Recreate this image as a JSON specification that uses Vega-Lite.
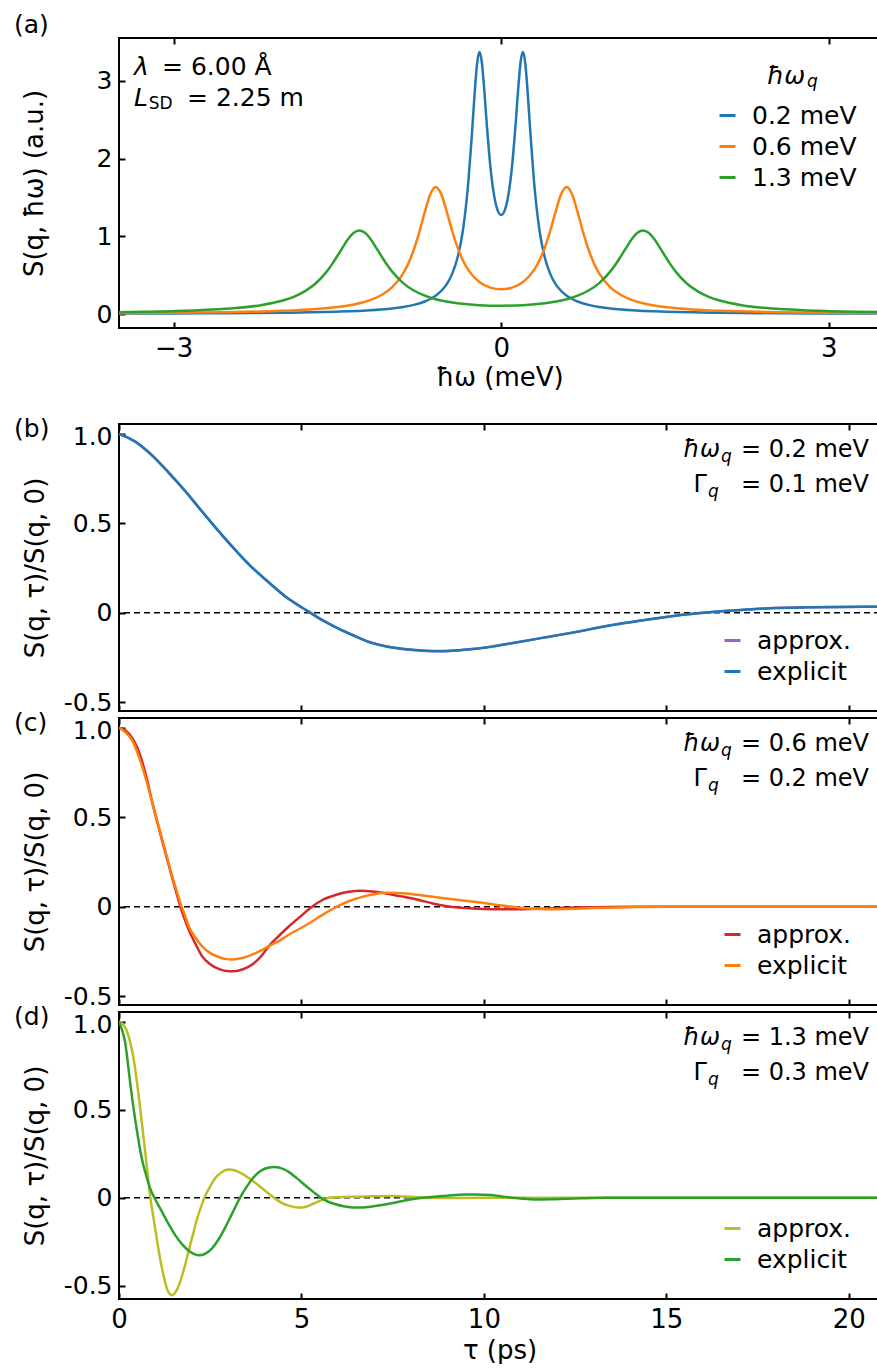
{
  "$schema": "https://vega.github.io/schema/vega-lite/v6.json",
  "background": "white",
  "padding": {"left": 12, "top": 12, "right": 0, "bottom": 0},
  "config": {
    "font": "DejaVu Sans",
    "view": {"stroke": "black", "strokeWidth": 2},
    "axis": {
      "domain": false, "grid": false, "labelFlush": false,
      "tickColor": "black", "tickWidth": 2, "tickSize": -6,
      "labelPadding": 13, "labelFontSize": 26, "labelColor": "black", "labelFont": "DejaVu Sans",
      "titleFontSize": 26, "titleFontWeight": "normal", "titleColor": "black", "titleFont": "DejaVu Sans"
    },
    "axisLeft": {"labelFontSize": 25},
    "legend": {"labelFont": "DejaVu Sans", "labelColor": "black", "labelFontSize": 25, "padding": 0},
    "text": {"font": "DejaVu Sans", "color": "black", "baseline": "alphabetic"}
  },
  "datasets": {
    "a": [
      {"E": -3.5, "S": 0.005, "m": "0.2 meV"}, {"E": -3.0, "S": 0.007, "m": "0.2 meV"}, {"E": -2.5, "S": 0.010, "m": "0.2 meV"}, {"E": -2.0, "S": 0.016, "m": "0.2 meV"}, {"E": -1.75, "S": 0.022, "m": "0.2 meV"}, {"E": -1.5, "S": 0.030, "m": "0.2 meV"}, {"E": -1.4, "S": 0.034, "m": "0.2 meV"}, {"E": -1.3, "S": 0.040, "m": "0.2 meV"}, {"E": -1.2, "S": 0.048, "m": "0.2 meV"}, {"E": -1.1, "S": 0.058, "m": "0.2 meV"}, {"E": -1.0, "S": 0.071, "m": "0.2 meV"}, {"E": -0.9, "S": 0.090, "m": "0.2 meV"}, {"E": -0.8, "S": 0.117, "m": "0.2 meV"}, {"E": -0.7, "S": 0.161, "m": "0.2 meV"}, {"E": -0.65, "S": 0.193, "m": "0.2 meV"}, {"E": -0.6, "S": 0.236, "m": "0.2 meV"}, {"E": -0.55, "S": 0.296, "m": "0.2 meV"}, {"E": -0.5, "S": 0.382, "m": "0.2 meV"}, {"E": -0.45, "S": 0.513, "m": "0.2 meV"}, {"E": -0.4, "S": 0.723, "m": "0.2 meV"}, {"E": -0.35, "S": 1.081, "m": "0.2 meV"}, {"E": -0.3, "S": 1.714, "m": "0.2 meV"}, {"E": -0.27, "S": 2.274, "m": "0.2 meV"}, {"E": -0.24, "S": 2.900, "m": "0.2 meV"}, {"E": -0.22, "S": 3.231, "m": "0.2 meV"}, {"E": -0.2, "S": 3.370, "m": "0.2 meV"}, {"E": -0.18, "S": 3.267, "m": "0.2 meV"}, {"E": -0.16, "S": 2.972, "m": "0.2 meV"}, {"E": -0.13, "S": 2.404, "m": "0.2 meV"}, {"E": -0.1, "S": 1.910, "m": "0.2 meV"}, {"E": -0.07, "S": 1.567, "m": "0.2 meV"}, {"E": -0.04, "S": 1.365, "m": "0.2 meV"}, {"E": 0, "S": 1.273, "m": "0.2 meV"}, {"E": 0.04, "S": 1.365, "m": "0.2 meV"}, {"E": 0.07, "S": 1.567, "m": "0.2 meV"}, {"E": 0.1, "S": 1.910, "m": "0.2 meV"}, {"E": 0.13, "S": 2.404, "m": "0.2 meV"}, {"E": 0.16, "S": 2.972, "m": "0.2 meV"}, {"E": 0.18, "S": 3.267, "m": "0.2 meV"}, {"E": 0.2, "S": 3.370, "m": "0.2 meV"}, {"E": 0.22, "S": 3.231, "m": "0.2 meV"}, {"E": 0.24, "S": 2.900, "m": "0.2 meV"}, {"E": 0.27, "S": 2.274, "m": "0.2 meV"}, {"E": 0.3, "S": 1.714, "m": "0.2 meV"}, {"E": 0.35, "S": 1.081, "m": "0.2 meV"}, {"E": 0.4, "S": 0.723, "m": "0.2 meV"}, {"E": 0.45, "S": 0.513, "m": "0.2 meV"}, {"E": 0.5, "S": 0.382, "m": "0.2 meV"}, {"E": 0.55, "S": 0.296, "m": "0.2 meV"}, {"E": 0.6, "S": 0.236, "m": "0.2 meV"}, {"E": 0.65, "S": 0.193, "m": "0.2 meV"}, {"E": 0.7, "S": 0.161, "m": "0.2 meV"}, {"E": 0.8, "S": 0.117, "m": "0.2 meV"}, {"E": 0.9, "S": 0.090, "m": "0.2 meV"}, {"E": 1.0, "S": 0.071, "m": "0.2 meV"}, {"E": 1.1, "S": 0.058, "m": "0.2 meV"}, {"E": 1.2, "S": 0.048, "m": "0.2 meV"}, {"E": 1.3, "S": 0.040, "m": "0.2 meV"}, {"E": 1.4, "S": 0.034, "m": "0.2 meV"}, {"E": 1.5, "S": 0.030, "m": "0.2 meV"}, {"E": 1.75, "S": 0.022, "m": "0.2 meV"}, {"E": 2.0, "S": 0.016, "m": "0.2 meV"}, {"E": 2.5, "S": 0.010, "m": "0.2 meV"}, {"E": 3.0, "S": 0.007, "m": "0.2 meV"}, {"E": 3.5, "S": 0.005, "m": "0.2 meV"},

      {"E": -3.5, "S": 0.011, "m": "0.6 meV"}, {"E": -3.0, "S": 0.016, "m": "0.6 meV"}, {"E": -2.5, "S": 0.024, "m": "0.6 meV"}, {"E": -2.0, "S": 0.041, "m": "0.6 meV"}, {"E": -1.75, "S": 0.058, "m": "0.6 meV"}, {"E": -1.5, "S": 0.089, "m": "0.6 meV"}, {"E": -1.4, "S": 0.109, "m": "0.6 meV"}, {"E": -1.3, "S": 0.138, "m": "0.6 meV"}, {"E": -1.2, "S": 0.179, "m": "0.6 meV"}, {"E": -1.1, "S": 0.241, "m": "0.6 meV"}, {"E": -1.0, "S": 0.343, "m": "0.6 meV"}, {"E": -0.9, "S": 0.517, "m": "0.6 meV"}, {"E": -0.85, "S": 0.651, "m": "0.6 meV"}, {"E": -0.8, "S": 0.828, "m": "0.6 meV"}, {"E": -0.75, "S": 1.053, "m": "0.6 meV"}, {"E": -0.7, "S": 1.310, "m": "0.6 meV"}, {"E": -0.65, "S": 1.538, "m": "0.6 meV"}, {"E": -0.6, "S": 1.635, "m": "0.6 meV"}, {"E": -0.55, "S": 1.545, "m": "0.6 meV"}, {"E": -0.5, "S": 1.324, "m": "0.6 meV"}, {"E": -0.45, "S": 1.074, "m": "0.6 meV"}, {"E": -0.4, "S": 0.857, "m": "0.6 meV"}, {"E": -0.35, "S": 0.689, "m": "0.6 meV"}, {"E": -0.3, "S": 0.564, "m": "0.6 meV"}, {"E": -0.2, "S": 0.412, "m": "0.6 meV"}, {"E": -0.1, "S": 0.340, "m": "0.6 meV"}, {"E": 0, "S": 0.318, "m": "0.6 meV"}, {"E": 0.1, "S": 0.340, "m": "0.6 meV"}, {"E": 0.2, "S": 0.412, "m": "0.6 meV"}, {"E": 0.3, "S": 0.564, "m": "0.6 meV"}, {"E": 0.35, "S": 0.689, "m": "0.6 meV"}, {"E": 0.4, "S": 0.857, "m": "0.6 meV"}, {"E": 0.45, "S": 1.074, "m": "0.6 meV"}, {"E": 0.5, "S": 1.324, "m": "0.6 meV"}, {"E": 0.55, "S": 1.545, "m": "0.6 meV"}, {"E": 0.6, "S": 1.635, "m": "0.6 meV"}, {"E": 0.65, "S": 1.538, "m": "0.6 meV"}, {"E": 0.7, "S": 1.310, "m": "0.6 meV"}, {"E": 0.75, "S": 1.053, "m": "0.6 meV"}, {"E": 0.8, "S": 0.828, "m": "0.6 meV"}, {"E": 0.85, "S": 0.651, "m": "0.6 meV"}, {"E": 0.9, "S": 0.517, "m": "0.6 meV"}, {"E": 1.0, "S": 0.343, "m": "0.6 meV"}, {"E": 1.1, "S": 0.241, "m": "0.6 meV"}, {"E": 1.2, "S": 0.179, "m": "0.6 meV"}, {"E": 1.3, "S": 0.138, "m": "0.6 meV"}, {"E": 1.4, "S": 0.109, "m": "0.6 meV"}, {"E": 1.5, "S": 0.089, "m": "0.6 meV"}, {"E": 1.75, "S": 0.058, "m": "0.6 meV"}, {"E": 2.0, "S": 0.041, "m": "0.6 meV"}, {"E": 2.5, "S": 0.024, "m": "0.6 meV"}, {"E": 3.0, "S": 0.016, "m": "0.6 meV"}, {"E": 3.5, "S": 0.011, "m": "0.6 meV"},

      {"E": -3.5, "S": 0.024, "m": "1.3 meV"}, {"E": -3.25, "S": 0.029, "m": "1.3 meV"}, {"E": -3.0, "S": 0.037, "m": "1.3 meV"}, {"E": -2.8, "S": 0.046, "m": "1.3 meV"}, {"E": -2.6, "S": 0.060, "m": "1.3 meV"}, {"E": -2.4, "S": 0.080, "m": "1.3 meV"}, {"E": -2.2, "S": 0.114, "m": "1.3 meV"}, {"E": -2.0, "S": 0.173, "m": "1.3 meV"}, {"E": -1.9, "S": 0.221, "m": "1.3 meV"}, {"E": -1.8, "S": 0.291, "m": "1.3 meV"}, {"E": -1.7, "S": 0.392, "m": "1.3 meV"}, {"E": -1.6, "S": 0.542, "m": "1.3 meV"}, {"E": -1.55, "S": 0.638, "m": "1.3 meV"}, {"E": -1.5, "S": 0.747, "m": "1.3 meV"}, {"E": -1.45, "S": 0.861, "m": "1.3 meV"}, {"E": -1.4, "S": 0.968, "m": "1.3 meV"}, {"E": -1.35, "S": 1.046, "m": "1.3 meV"}, {"E": -1.3, "S": 1.075, "m": "1.3 meV"}, {"E": -1.25, "S": 1.047, "m": "1.3 meV"}, {"E": -1.2, "S": 0.970, "m": "1.3 meV"}, {"E": -1.15, "S": 0.864, "m": "1.3 meV"}, {"E": -1.1, "S": 0.751, "m": "1.3 meV"}, {"E": -1.05, "S": 0.643, "m": "1.3 meV"}, {"E": -1.0, "S": 0.548, "m": "1.3 meV"}, {"E": -0.9, "S": 0.401, "m": "1.3 meV"}, {"E": -0.8, "S": 0.302, "m": "1.3 meV"}, {"E": -0.7, "S": 0.236, "m": "1.3 meV"}, {"E": -0.6, "S": 0.190, "m": "1.3 meV"}, {"E": -0.4, "S": 0.138, "m": "1.3 meV"}, {"E": -0.2, "S": 0.114, "m": "1.3 meV"}, {"E": 0, "S": 0.107, "m": "1.3 meV"}, {"E": 0.2, "S": 0.114, "m": "1.3 meV"}, {"E": 0.4, "S": 0.138, "m": "1.3 meV"}, {"E": 0.6, "S": 0.190, "m": "1.3 meV"}, {"E": 0.7, "S": 0.236, "m": "1.3 meV"}, {"E": 0.8, "S": 0.302, "m": "1.3 meV"}, {"E": 0.9, "S": 0.401, "m": "1.3 meV"}, {"E": 1.0, "S": 0.548, "m": "1.3 meV"}, {"E": 1.05, "S": 0.643, "m": "1.3 meV"}, {"E": 1.1, "S": 0.751, "m": "1.3 meV"}, {"E": 1.15, "S": 0.864, "m": "1.3 meV"}, {"E": 1.2, "S": 0.970, "m": "1.3 meV"}, {"E": 1.25, "S": 1.047, "m": "1.3 meV"}, {"E": 1.3, "S": 1.075, "m": "1.3 meV"}, {"E": 1.35, "S": 1.046, "m": "1.3 meV"}, {"E": 1.4, "S": 0.968, "m": "1.3 meV"}, {"E": 1.45, "S": 0.861, "m": "1.3 meV"}, {"E": 1.5, "S": 0.747, "m": "1.3 meV"}, {"E": 1.55, "S": 0.638, "m": "1.3 meV"}, {"E": 1.6, "S": 0.542, "m": "1.3 meV"}, {"E": 1.7, "S": 0.392, "m": "1.3 meV"}, {"E": 1.8, "S": 0.291, "m": "1.3 meV"}, {"E": 1.9, "S": 0.221, "m": "1.3 meV"}, {"E": 2.0, "S": 0.173, "m": "1.3 meV"}, {"E": 2.2, "S": 0.114, "m": "1.3 meV"}, {"E": 2.4, "S": 0.080, "m": "1.3 meV"}, {"E": 2.6, "S": 0.060, "m": "1.3 meV"}, {"E": 2.8, "S": 0.046, "m": "1.3 meV"}, {"E": 3.0, "S": 0.037, "m": "1.3 meV"}, {"E": 3.25, "S": 0.029, "m": "1.3 meV"}, {"E": 3.5, "S": 0.024, "m": "1.3 meV"}
    ],
    "b": [
      {"t": 0, "v": 1.0, "s": "approx."}, {"t": 0.45, "v": 0.957, "s": "approx."}, {"t": 0.9, "v": 0.882, "s": "approx."}, {"t": 1.35, "v": 0.787, "s": "approx."}, {"t": 1.82, "v": 0.679, "s": "approx."}, {"t": 2.27, "v": 0.567, "s": "approx."}, {"t": 2.73, "v": 0.456, "s": "approx."}, {"t": 3.19, "v": 0.35, "s": "approx."}, {"t": 3.65, "v": 0.252, "s": "approx."}, {"t": 4.1, "v": 0.17, "s": "approx."}, {"t": 4.56, "v": 0.09, "s": "approx."}, {"t": 5.0, "v": 0.03, "s": "approx."}, {"t": 5.24, "v": 0.0, "s": "approx."}, {"t": 5.6, "v": -0.045, "s": "approx."}, {"t": 5.93, "v": -0.081, "s": "approx."}, {"t": 6.4, "v": -0.125, "s": "approx."}, {"t": 6.85, "v": -0.163, "s": "approx."}, {"t": 7.3, "v": -0.188, "s": "approx."}, {"t": 7.76, "v": -0.203, "s": "approx."}, {"t": 8.3, "v": -0.213, "s": "approx."}, {"t": 8.86, "v": -0.216, "s": "approx."}, {"t": 9.3, "v": -0.211, "s": "approx."}, {"t": 9.77, "v": -0.202, "s": "approx."}, {"t": 10.2, "v": -0.19, "s": "approx."}, {"t": 10.68, "v": -0.174, "s": "approx."}, {"t": 11.6, "v": -0.141, "s": "approx."}, {"t": 12.51, "v": -0.108, "s": "approx."}, {"t": 13.43, "v": -0.072, "s": "approx."}, {"t": 14.34, "v": -0.043, "s": "approx."}, {"t": 15.25, "v": -0.017, "s": "approx."}, {"t": 16.17, "v": 0.002, "s": "approx."}, {"t": 17.08, "v": 0.016, "s": "approx."}, {"t": 18.0, "v": 0.026, "s": "approx."}, {"t": 18.9, "v": 0.030, "s": "approx."}, {"t": 19.8, "v": 0.032, "s": "approx."}, {"t": 20.9, "v": 0.033, "s": "approx."},
      {"t": 0, "v": 1.0, "s": "explicit"}, {"t": 0.45, "v": 0.955, "s": "explicit"}, {"t": 0.9, "v": 0.88, "s": "explicit"}, {"t": 1.35, "v": 0.785, "s": "explicit"}, {"t": 1.82, "v": 0.678, "s": "explicit"}, {"t": 2.27, "v": 0.567, "s": "explicit"}, {"t": 2.73, "v": 0.456, "s": "explicit"}, {"t": 3.19, "v": 0.35, "s": "explicit"}, {"t": 3.65, "v": 0.252, "s": "explicit"}, {"t": 4.1, "v": 0.17, "s": "explicit"}, {"t": 4.56, "v": 0.09, "s": "explicit"}, {"t": 5.0, "v": 0.03, "s": "explicit"}, {"t": 5.24, "v": 0.0, "s": "explicit"}, {"t": 5.6, "v": -0.045, "s": "explicit"}, {"t": 5.93, "v": -0.081, "s": "explicit"}, {"t": 6.4, "v": -0.125, "s": "explicit"}, {"t": 6.85, "v": -0.165, "s": "explicit"}, {"t": 7.3, "v": -0.188, "s": "explicit"}, {"t": 7.76, "v": -0.202, "s": "explicit"}, {"t": 8.3, "v": -0.212, "s": "explicit"}, {"t": 8.86, "v": -0.215, "s": "explicit"}, {"t": 9.3, "v": -0.21, "s": "explicit"}, {"t": 9.77, "v": -0.202, "s": "explicit"}, {"t": 10.2, "v": -0.19, "s": "explicit"}, {"t": 10.68, "v": -0.174, "s": "explicit"}, {"t": 11.6, "v": -0.141, "s": "explicit"}, {"t": 12.51, "v": -0.109, "s": "explicit"}, {"t": 13.43, "v": -0.072, "s": "explicit"}, {"t": 14.34, "v": -0.044, "s": "explicit"}, {"t": 15.25, "v": -0.017, "s": "explicit"}, {"t": 16.17, "v": 0.002, "s": "explicit"}, {"t": 17.08, "v": 0.015, "s": "explicit"}, {"t": 18.0, "v": 0.026, "s": "explicit"}, {"t": 18.9, "v": 0.030, "s": "explicit"}, {"t": 19.8, "v": 0.032, "s": "explicit"}, {"t": 20.9, "v": 0.033, "s": "explicit"}
    ],
    "c": [
      {"t": 0, "v": 1.0, "s": "approx."}, {"t": 0.18, "v": 0.985, "s": "approx."}, {"t": 0.36, "v": 0.944, "s": "approx."}, {"t": 0.5, "v": 0.89, "s": "approx."}, {"t": 0.63, "v": 0.815, "s": "approx."}, {"t": 0.77, "v": 0.71, "s": "approx."}, {"t": 0.9, "v": 0.593, "s": "approx."}, {"t": 1.04, "v": 0.48, "s": "approx."}, {"t": 1.18, "v": 0.37, "s": "approx."}, {"t": 1.32, "v": 0.265, "s": "approx."}, {"t": 1.45, "v": 0.167, "s": "approx."}, {"t": 1.57, "v": 0.08, "s": "approx."}, {"t": 1.68, "v": 0.0, "s": "approx."}, {"t": 1.8, "v": -0.07, "s": "approx."}, {"t": 1.91, "v": -0.13, "s": "approx."}, {"t": 2.1, "v": -0.21, "s": "approx."}, {"t": 2.28, "v": -0.278, "s": "approx."}, {"t": 2.5, "v": -0.322, "s": "approx."}, {"t": 2.73, "v": -0.348, "s": "approx."}, {"t": 2.95, "v": -0.36, "s": "approx."}, {"t": 3.14, "v": -0.361, "s": "approx."}, {"t": 3.4, "v": -0.35, "s": "approx."}, {"t": 3.65, "v": -0.324, "s": "approx."}, {"t": 3.9, "v": -0.276, "s": "approx."}, {"t": 4.1, "v": -0.222, "s": "approx."}, {"t": 4.4, "v": -0.16, "s": "approx."}, {"t": 4.65, "v": -0.111, "s": "approx."}, {"t": 5.0, "v": -0.05, "s": "approx."}, {"t": 5.29, "v": 0.0, "s": "approx."}, {"t": 5.6, "v": 0.04, "s": "approx."}, {"t": 5.93, "v": 0.065, "s": "approx."}, {"t": 6.3, "v": 0.083, "s": "approx."}, {"t": 6.62, "v": 0.089, "s": "approx."}, {"t": 6.95, "v": 0.085, "s": "approx."}, {"t": 7.31, "v": 0.074, "s": "approx."}, {"t": 7.8, "v": 0.055, "s": "approx."}, {"t": 8.22, "v": 0.037, "s": "approx."}, {"t": 8.6, "v": 0.018, "s": "approx."}, {"t": 8.95, "v": 0.004, "s": "approx."}, {"t": 9.3, "v": -0.005, "s": "approx."}, {"t": 9.6, "v": -0.009, "s": "approx."}, {"t": 10.0, "v": -0.013, "s": "approx."}, {"t": 10.5, "v": -0.015, "s": "approx."}, {"t": 11.0, "v": -0.014, "s": "approx."}, {"t": 11.5, "v": -0.012, "s": "approx."}, {"t": 12.0, "v": -0.008, "s": "approx."}, {"t": 12.5, "v": -0.005, "s": "approx."}, {"t": 13.0, "v": -0.003, "s": "approx."}, {"t": 14.0, "v": -0.001, "s": "approx."}, {"t": 15.0, "v": 0.0, "s": "approx."}, {"t": 17.5, "v": 0.0, "s": "approx."}, {"t": 20.9, "v": 0.0, "s": "approx."},
      {"t": 0, "v": 1.0, "s": "explicit"}, {"t": 0.18, "v": 0.975, "s": "explicit"}, {"t": 0.36, "v": 0.93, "s": "explicit"}, {"t": 0.5, "v": 0.865, "s": "explicit"}, {"t": 0.63, "v": 0.787, "s": "explicit"}, {"t": 0.77, "v": 0.69, "s": "explicit"}, {"t": 0.9, "v": 0.593, "s": "explicit"}, {"t": 1.04, "v": 0.485, "s": "explicit"}, {"t": 1.18, "v": 0.38, "s": "explicit"}, {"t": 1.32, "v": 0.275, "s": "explicit"}, {"t": 1.45, "v": 0.176, "s": "explicit"}, {"t": 1.57, "v": 0.095, "s": "explicit"}, {"t": 1.68, "v": 0.02, "s": "explicit"}, {"t": 1.8, "v": -0.045, "s": "explicit"}, {"t": 1.91, "v": -0.11, "s": "explicit"}, {"t": 2.1, "v": -0.175, "s": "explicit"}, {"t": 2.28, "v": -0.222, "s": "explicit"}, {"t": 2.5, "v": -0.26, "s": "explicit"}, {"t": 2.73, "v": -0.281, "s": "explicit"}, {"t": 2.9, "v": -0.292, "s": "explicit"}, {"t": 3.1, "v": -0.296, "s": "explicit"}, {"t": 3.4, "v": -0.286, "s": "explicit"}, {"t": 3.65, "v": -0.268, "s": "explicit"}, {"t": 3.9, "v": -0.245, "s": "explicit"}, {"t": 4.1, "v": -0.222, "s": "explicit"}, {"t": 4.4, "v": -0.19, "s": "explicit"}, {"t": 4.65, "v": -0.157, "s": "explicit"}, {"t": 5.0, "v": -0.118, "s": "explicit"}, {"t": 5.29, "v": -0.083, "s": "explicit"}, {"t": 5.6, "v": -0.043, "s": "explicit"}, {"t": 5.93, "v": -0.004, "s": "explicit"}, {"t": 6.3, "v": 0.03, "s": "explicit"}, {"t": 6.62, "v": 0.052, "s": "explicit"}, {"t": 6.95, "v": 0.068, "s": "explicit"}, {"t": 7.31, "v": 0.078, "s": "explicit"}, {"t": 7.7, "v": 0.076, "s": "explicit"}, {"t": 8.22, "v": 0.065, "s": "explicit"}, {"t": 8.7, "v": 0.053, "s": "explicit"}, {"t": 9.14, "v": 0.041, "s": "explicit"}, {"t": 9.6, "v": 0.03, "s": "explicit"}, {"t": 10.05, "v": 0.019, "s": "explicit"}, {"t": 10.5, "v": 0.006, "s": "explicit"}, {"t": 11.0, "v": -0.006, "s": "explicit"}, {"t": 11.5, "v": -0.013, "s": "explicit"}, {"t": 11.8, "v": -0.015, "s": "explicit"}, {"t": 12.3, "v": -0.013, "s": "explicit"}, {"t": 13.0, "v": -0.008, "s": "explicit"}, {"t": 14.0, "v": -0.003, "s": "explicit"}, {"t": 15.0, "v": 0.0, "s": "explicit"}, {"t": 17.5, "v": 0.0, "s": "explicit"}, {"t": 20.9, "v": 0.0, "s": "explicit"}
    ],
    "d": [
      {"t": 0, "v": 1.0, "s": "approx."}, {"t": 0.11, "v": 0.985, "s": "approx."}, {"t": 0.22, "v": 0.945, "s": "approx."}, {"t": 0.31, "v": 0.88, "s": "approx."}, {"t": 0.4, "v": 0.79, "s": "approx."}, {"t": 0.47, "v": 0.69, "s": "approx."}, {"t": 0.54, "v": 0.58, "s": "approx."}, {"t": 0.61, "v": 0.455, "s": "approx."}, {"t": 0.68, "v": 0.33, "s": "approx."}, {"t": 0.75, "v": 0.2, "s": "approx."}, {"t": 0.81, "v": 0.09, "s": "approx."}, {"t": 0.86, "v": 0.0, "s": "approx."}, {"t": 0.95, "v": -0.12, "s": "approx."}, {"t": 1.04, "v": -0.24, "s": "approx."}, {"t": 1.13, "v": -0.35, "s": "approx."}, {"t": 1.23, "v": -0.45, "s": "approx."}, {"t": 1.34, "v": -0.53, "s": "approx."}, {"t": 1.45, "v": -0.554, "s": "approx."}, {"t": 1.56, "v": -0.532, "s": "approx."}, {"t": 1.68, "v": -0.475, "s": "approx."}, {"t": 1.8, "v": -0.39, "s": "approx."}, {"t": 1.91, "v": -0.3, "s": "approx."}, {"t": 2.03, "v": -0.205, "s": "approx."}, {"t": 2.14, "v": -0.12, "s": "approx."}, {"t": 2.26, "v": -0.045, "s": "approx."}, {"t": 2.35, "v": 0.005, "s": "approx."}, {"t": 2.5, "v": 0.065, "s": "approx."}, {"t": 2.64, "v": 0.112, "s": "approx."}, {"t": 2.8, "v": 0.144, "s": "approx."}, {"t": 3.0, "v": 0.16, "s": "approx."}, {"t": 3.18, "v": 0.155, "s": "approx."}, {"t": 3.37, "v": 0.137, "s": "approx."}, {"t": 3.6, "v": 0.105, "s": "approx."}, {"t": 3.82, "v": 0.071, "s": "approx."}, {"t": 4.05, "v": 0.032, "s": "approx."}, {"t": 4.28, "v": -0.005, "s": "approx."}, {"t": 4.47, "v": -0.03, "s": "approx."}, {"t": 4.65, "v": -0.045, "s": "approx."}, {"t": 4.93, "v": -0.056, "s": "approx."}, {"t": 5.1, "v": -0.052, "s": "approx."}, {"t": 5.29, "v": -0.037, "s": "approx."}, {"t": 5.5, "v": -0.018, "s": "approx."}, {"t": 5.75, "v": 0.0, "s": "approx."}, {"t": 6.1, "v": 0.005, "s": "approx."}, {"t": 6.6, "v": 0.006, "s": "approx."}, {"t": 7.0, "v": 0.008, "s": "approx."}, {"t": 7.49, "v": 0.01, "s": "approx."}, {"t": 8.2, "v": 0.003, "s": "approx."}, {"t": 9.0, "v": -0.002, "s": "approx."}, {"t": 10.0, "v": 0.0, "s": "approx."}, {"t": 15.0, "v": 0.0, "s": "approx."}, {"t": 20.9, "v": 0.0, "s": "approx."},
      {"t": 0, "v": 1.0, "s": "explicit"}, {"t": 0.08, "v": 0.955, "s": "explicit"}, {"t": 0.17, "v": 0.88, "s": "explicit"}, {"t": 0.24, "v": 0.77, "s": "explicit"}, {"t": 0.31, "v": 0.645, "s": "explicit"}, {"t": 0.38, "v": 0.535, "s": "explicit"}, {"t": 0.45, "v": 0.435, "s": "explicit"}, {"t": 0.52, "v": 0.345, "s": "explicit"}, {"t": 0.58, "v": 0.27, "s": "explicit"}, {"t": 0.65, "v": 0.2, "s": "explicit"}, {"t": 0.72, "v": 0.145, "s": "explicit"}, {"t": 0.85, "v": 0.055, "s": "explicit"}, {"t": 0.97, "v": 0.0, "s": "explicit"}, {"t": 1.18, "v": -0.08, "s": "explicit"}, {"t": 1.36, "v": -0.15, "s": "explicit"}, {"t": 1.54, "v": -0.212, "s": "explicit"}, {"t": 1.72, "v": -0.262, "s": "explicit"}, {"t": 1.95, "v": -0.307, "s": "explicit"}, {"t": 2.19, "v": -0.327, "s": "explicit"}, {"t": 2.37, "v": -0.317, "s": "explicit"}, {"t": 2.55, "v": -0.287, "s": "explicit"}, {"t": 2.74, "v": -0.233, "s": "explicit"}, {"t": 2.92, "v": -0.165, "s": "explicit"}, {"t": 3.1, "v": -0.09, "s": "explicit"}, {"t": 3.28, "v": -0.014, "s": "explicit"}, {"t": 3.46, "v": 0.05, "s": "explicit"}, {"t": 3.65, "v": 0.107, "s": "explicit"}, {"t": 3.83, "v": 0.145, "s": "explicit"}, {"t": 4.01, "v": 0.166, "s": "explicit"}, {"t": 4.24, "v": 0.175, "s": "explicit"}, {"t": 4.46, "v": 0.167, "s": "explicit"}, {"t": 4.65, "v": 0.147, "s": "explicit"}, {"t": 4.88, "v": 0.11, "s": "explicit"}, {"t": 5.1, "v": 0.071, "s": "explicit"}, {"t": 5.33, "v": 0.032, "s": "explicit"}, {"t": 5.57, "v": -0.005, "s": "explicit"}, {"t": 5.75, "v": -0.024, "s": "explicit"}, {"t": 5.94, "v": -0.037, "s": "explicit"}, {"t": 6.15, "v": -0.048, "s": "explicit"}, {"t": 6.39, "v": -0.055, "s": "explicit"}, {"t": 6.62, "v": -0.056, "s": "explicit"}, {"t": 6.85, "v": -0.052, "s": "explicit"}, {"t": 7.15, "v": -0.043, "s": "explicit"}, {"t": 7.49, "v": -0.03, "s": "explicit"}, {"t": 7.8, "v": -0.017, "s": "explicit"}, {"t": 8.12, "v": -0.005, "s": "explicit"}, {"t": 8.4, "v": 0.001, "s": "explicit"}, {"t": 8.67, "v": 0.006, "s": "explicit"}, {"t": 9.13, "v": 0.014, "s": "explicit"}, {"t": 9.5, "v": 0.018, "s": "explicit"}, {"t": 9.77, "v": 0.019, "s": "explicit"}, {"t": 10.2, "v": 0.015, "s": "explicit"}, {"t": 10.6, "v": 0.005, "s": "explicit"}, {"t": 11.0, "v": -0.004, "s": "explicit"}, {"t": 11.42, "v": -0.01, "s": "explicit"}, {"t": 11.9, "v": -0.008, "s": "explicit"}, {"t": 12.5, "v": -0.004, "s": "explicit"}, {"t": 13.0, "v": -0.001, "s": "explicit"}, {"t": 14.0, "v": 0.0, "s": "explicit"}, {"t": 20.9, "v": 0.0, "s": "explicit"}
    ]
  },
  "bounds": "flush",
  "spacing": 96,
  "resolve": {"scale": {"color": "independent"}, "legend": {"color": "independent"}},
  "vconcat": [
    {
      "width": 761, "height": 290,
      "resolve": {"axis": {"x": "independent", "y": "independent"}},
      "layer": [
        {
          "data": {"name": "a"},
          "mark": {"type": "line", "strokeWidth": 2.5, "interpolate": "monotone", "clip": true},
          "encoding": {
            "x": {"field": "E", "type": "quantitative", "scale": {"domain": [-3.5, 3.469], "nice": false, "zero": false},
                  "axis": {"orient": "bottom", "values": [-3, 0, 3], "labelExpr": "datum.value == -3 ? '−3' : datum.value == 0 ? '0' : '3'", "title": "ħω (meV)", "titlePadding": 3}},
            "y": {"field": "S", "type": "quantitative", "scale": {"domain": [-0.18, 3.55], "nice": false, "zero": false},
                  "axis": {"orient": "left", "values": [0, 1, 2, 3], "title": "S(q, ħω) (a.u.)", "titlePadding": 49}},
            "color": {"field": "m", "type": "nominal", "scale": {"domain": ["0.2 meV", "0.6 meV", "1.3 meV"], "range": ["#1f77b4", "#ff7f0e", "#2ca02c"]},
                      "legend": {"orient": "none", "legendX": 596, "legendY": 65, "title": null, "symbolType": "stroke", "symbolSize": 256, "symbolStrokeWidth": 3, "labelOffset": 12, "rowPadding": 5, "labelFontSize": 25}}
          }
        },
        {"data": {"values": [{}]}, "mark": {"type": "text", "text": "(a)", "align": "left", "fontSize": 25},
         "encoding": {"x": {"datum": -4.462, "axis": null}, "y": {"datum": 3.614, "axis": null}}},
        {"data": {"values": [{}]}, "mark": {"type": "text", "text": "λ", "align": "left", "fontSize": 25, "fontStyle": "italic"},
         "encoding": {"x": {"datum": -3.363, "type": "quantitative", "axis": {"orient": "top", "values": [-3, 0, 3], "labels": false, "title": null}}, "y": {"datum": 3.074, "axis": null}}},
        {"data": {"values": [{}]}, "mark": {"type": "text", "text": "= 6.00 Å", "align": "left", "fontSize": 25},
         "encoding": {"x": {"datum": -3.106, "axis": null}, "y": {"datum": 3.074, "axis": null}}},
        {"data": {"values": [{}]}, "mark": {"type": "text", "text": "L", "align": "left", "fontSize": 25, "fontStyle": "italic"},
         "encoding": {"x": {"datum": -3.363, "axis": null}, "y": {"datum": 2.675, "axis": null}}},
        {"data": {"values": [{}]}, "mark": {"type": "text", "text": "SD", "align": "left", "fontSize": 17},
         "encoding": {"x": {"datum": -3.228, "axis": null}, "y": {"datum": 2.633, "axis": null}}},
        {"data": {"values": [{}]}, "mark": {"type": "text", "text": "= 2.25 m", "align": "left", "fontSize": 25},
         "encoding": {"x": {"datum": -2.877, "axis": null}, "y": {"datum": 2.675, "axis": null}}},
        {"data": {"values": [{}]}, "mark": {"type": "text", "text": "ħω", "align": "left", "fontSize": 25, "fontStyle": "italic"},
         "encoding": {"x": {"datum": 2.434, "axis": null}, "y": {"datum": 2.958, "axis": null}}},
        {"data": {"values": [{}]}, "mark": {"type": "text", "text": "q", "align": "left", "fontSize": 17, "fontStyle": "italic"},
         "encoding": {"x": {"datum": 2.8, "axis": null}, "y": {"datum": 2.926, "axis": null}}}
      ]
    },
    {
      "bounds": "flush",
      "spacing": 7,
      "resolve": {"scale": {"color": "independent"}, "legend": {"color": "independent"}},
      "vconcat": [
        {
          "width": 761, "height": 287,
          "resolve": {"axis": {"x": "independent", "y": "independent"}},
          "layer": [
            {"data": {"values": [{}]}, "mark": {"type": "rule", "strokeDash": [6, 4], "strokeWidth": 1.5, "color": "black"},
             "encoding": {"y": {"datum": 0, "axis": null}}},
            {
              "data": {"name": "b"},
              "mark": {"type": "line", "strokeWidth": 2.5, "interpolate": "monotone", "clip": true},
              "encoding": {
                "x": {"field": "t", "type": "quantitative", "scale": {"domain": [0, 20.855], "nice": false, "zero": false},
                      "axis": {"orient": "bottom", "values": [0, 5, 10, 15, 20], "labels": false, "title": null}},
                "y": {"field": "v", "type": "quantitative", "scale": {"domain": [-0.55, 1.055], "nice": false, "zero": false},
                      "axis": {"orient": "left", "values": [-0.5, 0, 0.5, 1], "labelExpr": "datum.value == 1 ? '1.0' : datum.value == 0.5 ? '0.5' : datum.value == 0 ? '0' : '-0.5'", "labelOffset": {"condition": {"test": "datum.value == 1", "value": 3}, "value": 0}, "title": "S(q, τ)/S(q, 0)", "titlePadding": 15}},
                "color": {"field": "s", "type": "nominal", "scale": {"domain": ["approx.", "explicit"], "range": ["#9467bd", "#1f77b4"]},
                          "legend": {"orient": "none", "legendX": 601, "legendY": 204, "title": null, "symbolType": "stroke", "symbolSize": 256, "symbolStrokeWidth": 3, "labelOffset": 12, "rowPadding": 5, "labelFontSize": 25}}
              }
            },
            {"data": {"values": [{}]}, "mark": {"type": "text", "text": "(b)", "align": "left", "fontSize": 25},
             "encoding": {"x": {"datum": -2.877, "axis": null}, "y": {"datum": 0.982, "axis": null}}},
            {"data": {"values": [{}]}, "mark": {"type": "text", "text": "= 0.2 meV", "align": "right", "fontSize": 24},
             "encoding": {"x": {"datum": 20.554, "type": "quantitative", "axis": {"orient": "top", "values": [0, 5, 10, 15, 20], "labels": false, "title": null}}, "y": {"datum": 0.869, "axis": null}}},
            {"data": {"values": [{}]}, "mark": {"type": "text", "text": "ħω", "align": "right", "fontSize": 24, "fontStyle": "italic"},
             "encoding": {"x": {"datum": 16.47, "axis": null}, "y": {"datum": 0.869, "axis": null}}},
            {"data": {"values": [{}]}, "mark": {"type": "text", "text": "q", "align": "left", "fontSize": 17, "fontStyle": "italic"},
             "encoding": {"x": {"datum": 16.5, "axis": null}, "y": {"datum": 0.841, "axis": null}}},
            {"data": {"values": [{}]}, "mark": {"type": "text", "text": "= 0.1 meV", "align": "right", "fontSize": 24},
             "encoding": {"x": {"datum": 20.554, "axis": null}, "y": {"datum": 0.673, "axis": null}}},
            {"data": {"values": [{}]}, "mark": {"type": "text", "text": "Γ", "align": "right", "fontSize": 24},
             "encoding": {"x": {"datum": 16.11, "axis": null}, "y": {"datum": 0.673, "axis": null}}},
            {"data": {"values": [{}]}, "mark": {"type": "text", "text": "q", "align": "left", "fontSize": 17, "fontStyle": "italic"},
             "encoding": {"x": {"datum": 16.14, "axis": null}, "y": {"datum": 0.645, "axis": null}}}
          ]
        },
        {
          "width": 761, "height": 287,
          "resolve": {"axis": {"x": "independent", "y": "independent"}},
          "layer": [
            {"data": {"values": [{}]}, "mark": {"type": "rule", "strokeDash": [6, 4], "strokeWidth": 1.5, "color": "black"},
             "encoding": {"y": {"datum": 0, "axis": null}}},
            {
              "data": {"name": "c"},
              "mark": {"type": "line", "strokeWidth": 2.5, "interpolate": "monotone", "clip": true},
              "encoding": {
                "x": {"field": "t", "type": "quantitative", "scale": {"domain": [0, 20.855], "nice": false, "zero": false},
                      "axis": {"orient": "bottom", "values": [0, 5, 10, 15, 20], "labels": false, "title": null}},
                "y": {"field": "v", "type": "quantitative", "scale": {"domain": [-0.55, 1.055], "nice": false, "zero": false},
                      "axis": {"orient": "left", "values": [-0.5, 0, 0.5, 1], "labelExpr": "datum.value == 1 ? '1.0' : datum.value == 0.5 ? '0.5' : datum.value == 0 ? '0' : '-0.5'", "labelOffset": {"condition": {"test": "datum.value == 1", "value": 3}, "value": 0}, "title": "S(q, τ)/S(q, 0)", "titlePadding": 15}},
                "color": {"field": "s", "type": "nominal", "scale": {"domain": ["approx.", "explicit"], "range": ["#d62728", "#ff7f0e"]},
                          "legend": {"orient": "none", "legendX": 601, "legendY": 204, "title": null, "symbolType": "stroke", "symbolSize": 256, "symbolStrokeWidth": 3, "labelOffset": 12, "rowPadding": 5, "labelFontSize": 25}}
              }
            },
            {"data": {"values": [{}]}, "mark": {"type": "text", "text": "(c)", "align": "left", "fontSize": 25},
             "encoding": {"x": {"datum": -2.877, "axis": null}, "y": {"datum": 0.982, "axis": null}}},
            {"data": {"values": [{}]}, "mark": {"type": "text", "text": "= 0.6 meV", "align": "right", "fontSize": 24},
             "encoding": {"x": {"datum": 20.554, "type": "quantitative", "axis": {"orient": "top", "values": [0, 5, 10, 15, 20], "labels": false, "title": null}}, "y": {"datum": 0.869, "axis": null}}},
            {"data": {"values": [{}]}, "mark": {"type": "text", "text": "ħω", "align": "right", "fontSize": 24, "fontStyle": "italic"},
             "encoding": {"x": {"datum": 16.47, "axis": null}, "y": {"datum": 0.869, "axis": null}}},
            {"data": {"values": [{}]}, "mark": {"type": "text", "text": "q", "align": "left", "fontSize": 17, "fontStyle": "italic"},
             "encoding": {"x": {"datum": 16.5, "axis": null}, "y": {"datum": 0.841, "axis": null}}},
            {"data": {"values": [{}]}, "mark": {"type": "text", "text": "= 0.2 meV", "align": "right", "fontSize": 24},
             "encoding": {"x": {"datum": 20.554, "axis": null}, "y": {"datum": 0.673, "axis": null}}},
            {"data": {"values": [{}]}, "mark": {"type": "text", "text": "Γ", "align": "right", "fontSize": 24},
             "encoding": {"x": {"datum": 16.11, "axis": null}, "y": {"datum": 0.673, "axis": null}}},
            {"data": {"values": [{}]}, "mark": {"type": "text", "text": "q", "align": "left", "fontSize": 17, "fontStyle": "italic"},
             "encoding": {"x": {"datum": 16.14, "axis": null}, "y": {"datum": 0.645, "axis": null}}}
          ]
        },
        {
          "width": 761, "height": 287,
          "resolve": {"axis": {"x": "independent", "y": "independent"}},
          "layer": [
            {"data": {"values": [{}]}, "mark": {"type": "rule", "strokeDash": [6, 4], "strokeWidth": 1.5, "color": "black"},
             "encoding": {"y": {"datum": 0, "axis": null}}},
            {
              "data": {"name": "d"},
              "mark": {"type": "line", "strokeWidth": 2.5, "interpolate": "monotone", "clip": true},
              "encoding": {
                "x": {"field": "t", "type": "quantitative", "scale": {"domain": [0, 20.855], "nice": false, "zero": false},
                      "axis": {"orient": "bottom", "values": [0, 5, 10, 15, 20], "title": "τ (ps)", "titlePadding": 5}},
                "y": {"field": "v", "type": "quantitative", "scale": {"domain": [-0.575, 1.055], "nice": false, "zero": false},
                      "axis": {"orient": "left", "values": [-0.5, 0, 0.5, 1], "labelExpr": "datum.value == 1 ? '1.0' : datum.value == 0.5 ? '0.5' : datum.value == 0 ? '0' : '-0.5'", "labelOffset": {"condition": {"test": "datum.value == 1", "value": 3}, "value": 0}, "title": "S(q, τ)/S(q, 0)", "titlePadding": 15}},
                "color": {"field": "s", "type": "nominal", "scale": {"domain": ["approx.", "explicit"], "range": ["#bcbd22", "#2ca02c"]},
                          "legend": {"orient": "none", "legendX": 601, "legendY": 204, "title": null, "symbolType": "stroke", "symbolSize": 256, "symbolStrokeWidth": 3, "labelOffset": 12, "rowPadding": 5, "labelFontSize": 25}}
              }
            },
            {"data": {"values": [{}]}, "mark": {"type": "text", "text": "(d)", "align": "left", "fontSize": 25},
             "encoding": {"x": {"datum": -2.877, "axis": null}, "y": {"datum": 0.981, "axis": null}}},
            {"data": {"values": [{}]}, "mark": {"type": "text", "text": "= 1.3 meV", "align": "right", "fontSize": 24},
             "encoding": {"x": {"datum": 20.554, "type": "quantitative", "axis": {"orient": "top", "values": [0, 5, 10, 15, 20], "labels": false, "title": null}}, "y": {"datum": 0.866, "axis": null}}},
            {"data": {"values": [{}]}, "mark": {"type": "text", "text": "ħω", "align": "right", "fontSize": 24, "fontStyle": "italic"},
             "encoding": {"x": {"datum": 16.47, "axis": null}, "y": {"datum": 0.866, "axis": null}}},
            {"data": {"values": [{}]}, "mark": {"type": "text", "text": "q", "align": "left", "fontSize": 17, "fontStyle": "italic"},
             "encoding": {"x": {"datum": 16.5, "axis": null}, "y": {"datum": 0.8375, "axis": null}}},
            {"data": {"values": [{}]}, "mark": {"type": "text", "text": "= 0.3 meV", "align": "right", "fontSize": 24},
             "encoding": {"x": {"datum": 20.554, "axis": null}, "y": {"datum": 0.667, "axis": null}}},
            {"data": {"values": [{}]}, "mark": {"type": "text", "text": "Γ", "align": "right", "fontSize": 24},
             "encoding": {"x": {"datum": 16.11, "axis": null}, "y": {"datum": 0.667, "axis": null}}},
            {"data": {"values": [{}]}, "mark": {"type": "text", "text": "q", "align": "left", "fontSize": 17, "fontStyle": "italic"},
             "encoding": {"x": {"datum": 16.14, "axis": null}, "y": {"datum": 0.639, "axis": null}}}
          ]
        }
      ]
    }
  ]
}
